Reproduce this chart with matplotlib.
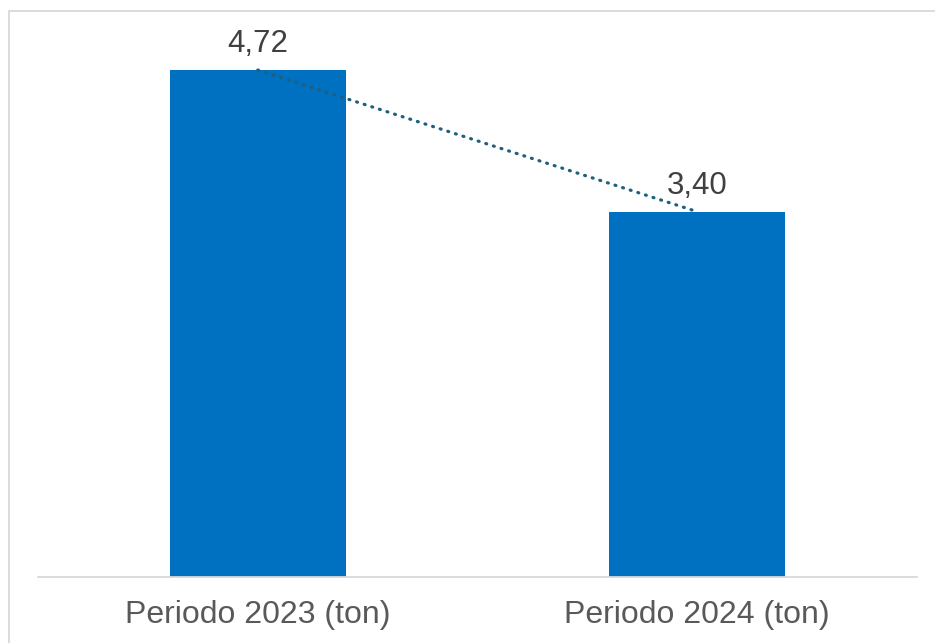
import matplotlib.pyplot as plt
from matplotlib.patches import Rectangle

categorias = ['Periodo 2023 (ton)', 'Periodo 2024 (ton)']
valores = [4.72, 3.40]
etiquetas = ['4,72', '3,40']

plt.rcParams['font.family'] = ['Liberation Sans', 'DejaVu Sans']

fig = plt.figure(figsize=(9.35, 6.43), dpi=100)
ax = fig.add_axes([38 / 935, 66.5 / 643, 879 / 935, 536.5 / 643])

x = list(range(len(categorias)))
ax.bar(x, valores, width=0.4, color='#0070C0', zorder=2)

# linea de tendencia punteada entre las cimas de las barras
ax.plot(x, valores, linestyle=(0, (0.3, 2.2)), linewidth=2.3, color='#1F5F7F',
        dash_capstyle='round', zorder=3)

for xi, v, t in zip(x, valores, etiquetas):
    ax.annotate(t, (xi, v), xytext=(0, 13), textcoords='offset points',
                ha='center', va='baseline', fontsize=22.5, color='#404040')

ax.set_xlim(-0.5, 1.5)
ax.set_ylim(0, 5)
ax.set_xticks(x)
ax.set_xticklabels(categorias, fontsize=23, color='#595959')
ax.tick_params(axis='x', length=0, pad=17)
ax.set_yticks([])
for s in ['top', 'right', 'left']:
    ax.spines[s].set_visible(False)
ax.spines['bottom'].set_color('#D9D9D9')
ax.spines['bottom'].set_linewidth(1.3)

# borde del area del grafico
fig.patches.append(Rectangle((9 / 935, -0.1), 1.2, (632 / 643) + 0.1,
                             transform=fig.transFigure, fill=False,
                             edgecolor='#D9D9D9', linewidth=1.3))

fig.savefig('out.png', dpi=100)
